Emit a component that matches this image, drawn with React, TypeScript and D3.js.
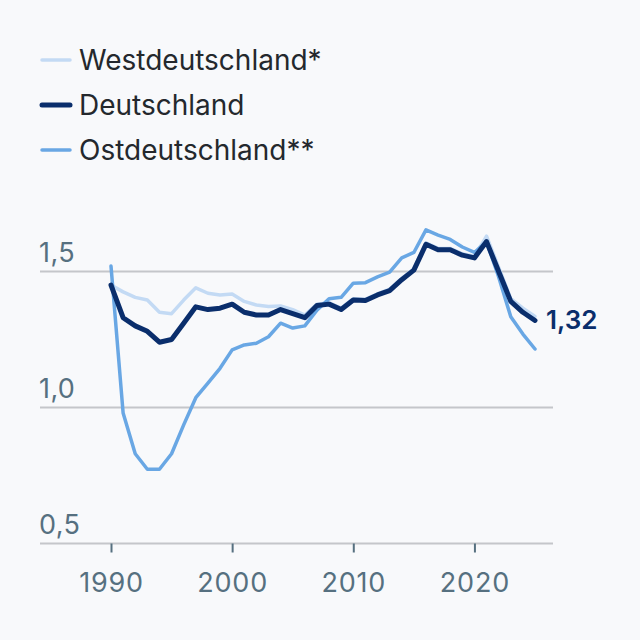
import * as React from "react";
import * as d3 from "d3";

const years: number[] = d3.range(1990, 2026);

// Zusammengefasste Geburtenziffer
const deutschland: number[] = [
    1.45, 1.33, 1.30, 1.28, 1.24, 1.25, 1.31, 1.37, 1.36, 1.365,
    1.38, 1.35, 1.34, 1.34, 1.36, 1.345, 1.33, 1.375, 1.38, 1.36,
    1.395, 1.393, 1.414, 1.43, 1.47, 1.505, 1.60, 1.58, 1.58, 1.56,
    1.55, 1.61, 1.50, 1.39, 1.35, 1.32
];
const westdeutschland: number[] = [
    1.45, 1.425, 1.405, 1.395, 1.35, 1.345, 1.395, 1.44, 1.42, 1.414,
    1.417, 1.39, 1.377, 1.371, 1.373, 1.36, 1.34, 1.38, 1.385, 1.365,
    1.40, 1.398, 1.418, 1.435, 1.475, 1.51, 1.605, 1.585, 1.585, 1.565,
    1.555, 1.63, 1.515, 1.40, 1.365, 1.335
];
const ostdeutschland: number[] = [
    1.52, 0.98, 0.83, 0.773, 0.773, 0.83, 0.936, 1.036, 1.09, 1.144,
    1.212, 1.23, 1.236, 1.26, 1.31, 1.292, 1.30, 1.358, 1.40, 1.405,
    1.457, 1.459, 1.48, 1.498, 1.55, 1.57, 1.653, 1.634, 1.618, 1.59,
    1.57, 1.61, 1.48, 1.334, 1.27, 1.215
];

const legendLabels: string[] = ["Westdeutschland*", "Deutschland", "Ostdeutschland**"];
const xTicks: number[] = [1990, 2000, 2010, 2020];
const yTicks: number[] = [0.5, 1.0, 1.5];
const lastLabel: string = "1,32";

const navy: string = "#0a2e6c";
const lightBlue: string = "#c3daf4";
const midBlue: string = "#69a7e4";
const grid: string = "rgb(196, 198, 202)";
const axisText: string = "#567080";
const font: string = "Inter, 'Noto Sans', sans-serif";

interface Series {
    name: string;
    values: number[];
    color: string;
    width: number;
}

const series: Series[] = [
    { name: legendLabels[0], values: westdeutschland, color: lightBlue, width: 3.5 },
    { name: legendLabels[2], values: ostdeutschland, color: midBlue, width: 3.5 },
    { name: legendLabels[1], values: deutschland, color: navy, width: 5 }
];
const legendOrder: Series[] = [series[0], series[2], series[1]];

class FertilityChart extends React.PureComponent<{ width: number; height: number }> {
    private ref: React.RefObject<SVGSVGElement> = React.createRef();

    public componentDidMount(): void {
        this.drawGraph();
    }

    public render(): JSX.Element {
        return <svg ref={this.ref} width={this.props.width} height={this.props.height}
                    style={{ position: "absolute", left: 0, top: 0, display: "block" }} />;
    }

    private drawGraph(): void {
        const svg = d3.select(this.ref.current);
        svg.selectAll("*").remove();

        svg.append("rect")
            .attr("width", this.props.width)
            .attr("height", this.props.height)
            .attr("fill", "#f8f9fb");

        const xScale: d3.ScaleLinear<number, number> = d3.scaleLinear()
            .domain([1990, 2025])
            .range([111, 535]);
        const yScale: d3.ScaleLinear<number, number> = d3.scaleLinear()
            .domain([0.5, 1.5])
            .range([543.5, 271.5]);

        // Gitterlinien + Beschriftung
        const gridG = svg.append("g");
        yTicks.forEach((t: number) => {
            gridG.append("line")
                .attr("x1", 40).attr("x2", 553)
                .attr("y1", yScale(t)).attr("y2", yScale(t))
                .attr("stroke", grid)
                .attr("stroke-width", 2);
            gridG.append("text")
                .attr("x", 39)
                .attr("y", yScale(t) - 9.5)
                .attr("font-family", font)
                .attr("font-size", 27)
                .attr("letter-spacing", 0.4)
                .attr("fill", axisText)
                .text(d3.format(".1f")(t).replace(".", ","));
        });

        const xAxis = d3.axisBottom(xScale)
            .tickValues(xTicks)
            .tickFormat(d3.format("d") as any) //tslint:disable-line
            .tickSizeInner(9)
            .tickSizeOuter(0)
            .tickPadding(20);
        const xG = svg.append("g")
            .attr("transform", `translate(0, ${yScale(0.5)})`)
            .call(xAxis);
        xG.select(".domain").remove();
        xG.selectAll("line").attr("stroke", axisText).attr("stroke-width", 2);
        xG.selectAll("text")
            .attr("font-family", font)
            .attr("font-size", 27)
            .attr("letter-spacing", 0.8)
            .attr("fill", axisText);

        const line = d3.line<number>()
            .x((d: number, i: number) => xScale(years[i]))
            .y((d: number) => yScale(d))
            .curve(d3.curveLinear);

        series.forEach((s: Series) => {
            svg.append("path")
                .datum(s.values)
                .attr("d", line)
                .attr("fill", "none")
                .attr("stroke", s.color)
                .attr("stroke-width", s.width)
                .attr("stroke-linejoin", "round")
                .attr("stroke-linecap", "round");
        });

        // Endwert
        const last: number = deutschland.length - 1;
        svg.append("text")
            .attr("x", xScale(years[last]) + 11)
            .attr("y", yScale(deutschland[last]) + 9)
            .attr("font-family", font)
            .attr("font-size", 26)
            .attr("font-weight", 600)
            .attr("fill", navy)
            .text(lastLabel);

        // Legende
        const legend = svg.append("g");
        legendOrder.forEach((s: Series, i: number) => {
            const y: number = 60 + i * 45;
            legend.append("line")
                .attr("x1", 42).attr("x2", 70)
                .attr("y1", y).attr("y2", y)
                .attr("stroke", s.color)
                .attr("stroke-width", s.width)
                .attr("stroke-linecap", "round");
            legend.append("text")
                .attr("x", 79)
                .attr("y", y + 10)
                .attr("font-family", font)
                .attr("font-size", 28)
                .attr("fill", "#24282d")
                .text(s.name);
        });
    }
}

export default function App(): JSX.Element {
    return <FertilityChart width={640} height={640} />;
}
